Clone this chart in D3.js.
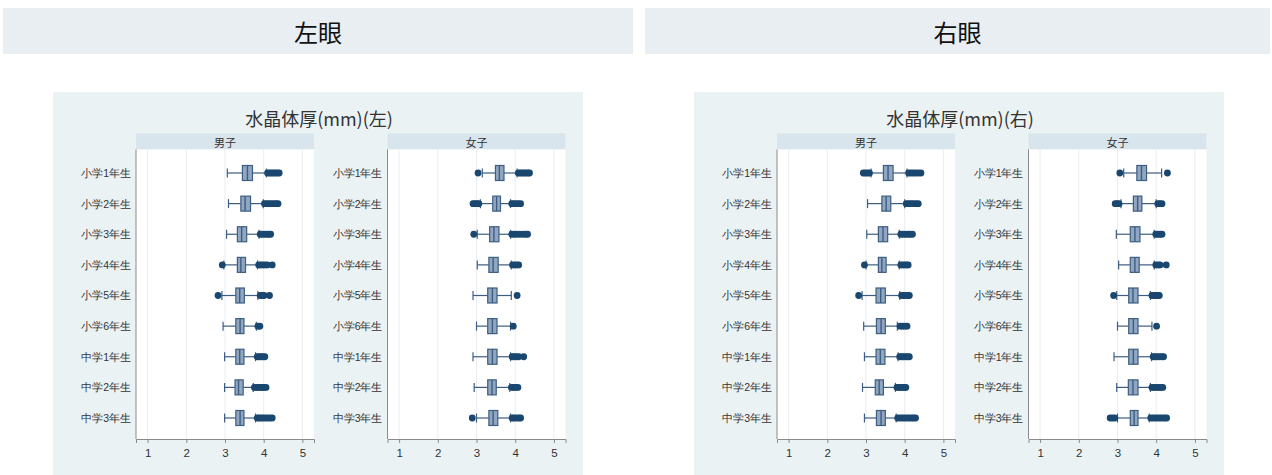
<!DOCTYPE html>
<html>
<head>
<meta charset="utf-8">
<script src="https://cdn.jsdelivr.net/npm/d3@7"></script>
<style>
  body { margin: 0; background: #fff; }
  svg { display: block; font-family: "Noto Sans CJK JP", "Noto Sans", sans-serif; }
</style>
</head>
<body>
<div id="chart"></div>
<script>
const eyes = ["左眼", "右眼"];
const titles = ["水晶体厚(mm)(左)", "水晶体厚(mm)(右)"];
const sexes = ["男子", "女子"];
const grades = ["小学1年生", "小学2年生", "小学3年生", "小学4年生", "小学5年生",
  "小学6年生", "中学1年生", "中学2年生", "中学3年生"];
const xTicks = [1, 2, 3, 4, 5];

// [lower whisker, q1, median, q3, upper whisker]
const leftMaleBox = [
  [3.06, 3.45, 3.58, 3.71, 4.07], [3.09, 3.41, 3.52, 3.66, 3.99], [3.04, 3.32, 3.43, 3.56, 3.88],
  [2.97, 3.32, 3.41, 3.53, 3.84], [2.92, 3.28, 3.38, 3.50, 3.85], [2.95, 3.28, 3.39, 3.49, 3.81],
  [2.99, 3.28, 3.38, 3.49, 3.79], [2.99, 3.26, 3.35, 3.47, 3.73], [2.99, 3.28, 3.39, 3.49, 3.79]
];
const leftMaleOut = [
  [4.10, 4.15, 4.20, 4.25, 4.30, 4.35, 4.40], [4.02, 4.08, 4.14, 4.20, 4.26, 4.32, 4.37],
  [3.91, 3.96, 4.02, 4.08, 4.13, 4.18], [2.93, 3.87, 3.92, 3.97, 4.03, 4.09, 4.22],
  [2.82, 3.91, 3.96, 4.01, 4.15], [3.85, 3.90], [3.83, 3.88, 3.93, 3.98, 4.03],
  [3.76, 3.81, 3.86, 3.91, 3.96, 4.01, 4.06], [3.83, 3.88, 3.93, 3.98, 4.04, 4.10, 4.16, 4.22]
];
const leftFemaleBox = [
  [3.15, 3.49, 3.59, 3.71, 4.05], [3.10, 3.42, 3.52, 3.62, 3.88], [3.02, 3.34, 3.45, 3.58, 3.88],
  [3.02, 3.32, 3.43, 3.56, 3.90], [2.91, 3.29, 3.41, 3.53, 3.90], [3.00, 3.29, 3.41, 3.53, 3.88],
  [2.91, 3.29, 3.41, 3.53, 3.88], [2.94, 3.29, 3.40, 3.51, 3.86], [3.00, 3.32, 3.43, 3.55, 3.88]
];
const leftFemaleOut = [
  [3.04, 4.08, 4.13, 4.18, 4.23, 4.28, 4.33, 4.37], [2.91, 2.96, 3.01, 3.06, 3.91, 3.96, 4.02, 4.08, 4.14],
  [2.93, 3.91, 3.97, 4.04, 4.12, 4.20, 4.27, 4.32], [3.93, 3.98, 4.04, 4.09], [4.05], [3.95],
  [3.92, 3.97, 4.03, 4.09, 4.22], [3.90, 3.95, 4.01, 4.07], [2.89, 3.92, 3.97, 4.03, 4.09, 4.14]
];
const rightMaleBox = [
  [3.13, 3.45, 3.57, 3.70, 4.06], [3.04, 3.41, 3.52, 3.64, 4.00], [3.02, 3.32, 3.44, 3.56, 3.86],
  [3.00, 3.32, 3.41, 3.52, 3.86], [2.90, 3.26, 3.38, 3.50, 3.87], [2.94, 3.27, 3.39, 3.50, 3.81],
  [2.96, 3.26, 3.37, 3.49, 3.83], [2.91, 3.24, 3.34, 3.45, 3.76], [2.96, 3.27, 3.39, 3.50, 3.78]
];
const rightMaleOut = [
  [2.93, 2.98, 3.04, 3.09, 4.10, 4.16, 4.22, 4.28, 4.35, 4.42], [4.04, 4.10, 4.16, 4.22, 4.29, 4.35],
  [3.90, 3.96, 4.02, 4.08, 4.14, 4.20], [2.96, 3.90, 3.95, 4.00, 4.05, 4.09],
  [2.81, 3.92, 3.97, 4.02, 4.07, 4.12], [3.88, 3.94, 4.00, 4.06], [3.87, 3.92, 3.97, 4.02, 4.07, 4.12],
  [3.80, 3.85, 3.90, 3.95, 4.00, 4.03], [3.82, 3.88, 3.94, 4.00, 4.06, 4.12, 4.18, 4.23, 4.28]
];
const rightFemaleBox = [
  [3.16, 3.50, 3.62, 3.75, 4.14], [3.09, 3.41, 3.52, 3.63, 4.00], [2.97, 3.33, 3.45, 3.58, 3.95],
  [3.03, 3.33, 3.45, 3.56, 3.95], [2.98, 3.29, 3.40, 3.53, 3.85], [3.00, 3.29, 3.41, 3.53, 3.89],
  [2.91, 3.29, 3.41, 3.53, 3.88], [2.98, 3.28, 3.40, 3.53, 3.85], [3.00, 3.33, 3.43, 3.53, 3.82]
];
const rightFemaleOut = [
  [3.06, 4.29], [2.94, 2.99, 3.04, 4.04, 4.09, 4.15], [3.99, 4.04, 4.10, 4.15],
  [3.99, 4.05, 4.10, 4.26], [2.90, 3.89, 3.94, 3.99, 4.04, 4.08], [4.01],
  [3.92, 3.97, 4.02, 4.08, 4.14, 4.19], [3.89, 3.94, 4.00, 4.06, 4.12, 4.17],
  [2.81, 2.87, 2.93, 3.86, 3.92, 3.98, 4.04, 4.10, 4.16, 4.22, 4.27]
];

const charts = [
  [{ box: leftMaleBox, out: leftMaleOut }, { box: leftFemaleBox, out: leftFemaleOut }],
  [{ box: rightMaleBox, out: rightMaleOut }, { box: rightFemaleBox, out: rightFemaleOut }]
];

const width = 1272, height = 475;
const svg = d3.select("#chart").append("svg")
  .attr("width", width)
  .attr("height", height);

const bandX = [3, 645];
const bandW = [630, 625];
const chartX = [53, 694];
const chartW = 530;

const plotW = 178;
const plotOffsets = [83, 334.5];
const plotTop = 149.5, plotBottom = 439;

const x = d3.scaleLinear().domain([0.7, 5.3]).range([0, plotW]);
const y = d3.scalePoint().domain(grades).range([173, 418]);

const navy = "#1a476f";
const boxFill = "#91a7c1";
const boxLine = "#3d5d82";

eyes.forEach((eye, e) => {
  // top band
  svg.append("rect")
    .attr("x", bandX[e]).attr("y", 8)
    .attr("width", bandW[e]).attr("height", 46)
    .style("fill", "#e8eef1");
  svg.append("text")
    .attr("x", bandX[e] + bandW[e] / 2).attr("y", 31)
    .attr("text-anchor", "middle")
    .attr("dominant-baseline", "central")
    .style("font-size", "24px")
    .style("fill", "#111")
    .text(eye);

  const g = svg.append("g").attr("transform", `translate(${chartX[e]},0)`);
  g.append("rect")
    .attr("x", 0).attr("y", 92)
    .attr("width", chartW).attr("height", height - 92)
    .style("fill", "#eaf2f3");

  g.append("text")
    .attr("x", chartW / 2 + 1).attr("y", 118)
    .attr("text-anchor", "middle")
    .attr("dominant-baseline", "central")
    .style("font-size", "18px")
    .style("fill", "#333")
    .text(titles[e]);

  sexes.forEach((sex, s) => {
    const p = g.append("g").attr("transform", `translate(${plotOffsets[s]},0)`);
    const { box, out } = charts[e][s];

    // strip header
    p.append("rect")
      .attr("x", 0).attr("y", 133.5)
      .attr("width", plotW).attr("height", plotTop - 133.5)
      .style("fill", "#d9e5ec");
    p.append("text")
      .attr("x", plotW / 2).attr("y", 141.5)
      .attr("text-anchor", "middle")
      .attr("dominant-baseline", "central")
      .style("font-size", "11px")
      .style("fill", "#333")
      .text(sex);

    // plot area
    p.append("rect")
      .attr("x", 0).attr("y", plotTop)
      .attr("width", plotW).attr("height", plotBottom - plotTop)
      .style("fill", "#fff");

    p.selectAll(".grid")
      .data(xTicks)
      .enter()
      .append("line")
      .attr("x1", d => x(d)).attr("x2", d => x(d))
      .attr("y1", plotTop).attr("y2", plotBottom)
      .style("stroke", "#e9ecef")
      .style("stroke-width", 1);

    // x axis
    const xa = p.append("g")
      .attr("transform", `translate(0,${plotBottom})`)
      .call(d3.axisBottom(x).tickValues(xTicks).tickSize(4).tickPadding(6).tickFormat(d3.format("d")));
    xa.select(".domain").style("stroke", "#8a8a8a");
    xa.selectAll(".tick line").style("stroke", "#8a8a8a");
    xa.selectAll(".tick text")
      .style("font-size", "11.5px")
      .style("fill", "#333")
      .style("font-family", "'Liberation Sans', Arial, sans-serif");

    // y axis (labels only)
    const ya = p.append("g")
      .call(d3.axisLeft(y).tickSize(0).tickPadding(5));
    ya.select(".domain").remove();
    ya.selectAll(".tick text")
      .style("font-size", "10.5px")
      .style("fill", "#333");
    p.append("line")
      .attr("x1", 0).attr("x2", 0)
      .attr("y1", plotTop).attr("y2", plotBottom)
      .style("stroke", "#8a8a8a");

    const rows = box.map((b, i) => ({ grade: grades[i], b, out: out[i] }));
    const row = p.selectAll(".row")
      .data(rows)
      .enter()
      .append("g")
      .attr("transform", d => `translate(0,${y(d.grade)})`);

    const boxH = 15, capH = 9;

    // whiskers
    row.append("line")
      .attr("x1", d => x(d.b[0])).attr("x2", d => x(d.b[1]))
      .style("stroke", boxLine).style("stroke-width", 1.2);
    row.append("line")
      .attr("x1", d => x(d.b[3])).attr("x2", d => x(d.b[4]))
      .style("stroke", boxLine).style("stroke-width", 1.2);
    row.selectAll(".cap")
      .data(d => [d.b[0], d.b[4]])
      .enter()
      .append("line")
      .attr("x1", d => x(d)).attr("x2", d => x(d))
      .attr("y1", -capH / 2).attr("y2", capH / 2)
      .style("stroke", boxLine).style("stroke-width", 1.2);

    // box
    row.append("rect")
      .attr("x", d => x(d.b[1]))
      .attr("y", -boxH / 2)
      .attr("width", d => x(d.b[3]) - x(d.b[1]))
      .attr("height", boxH)
      .style("fill", boxFill)
      .style("stroke", boxLine)
      .style("stroke-width", 1.2);
    row.append("line")
      .attr("x1", d => x(d.b[2])).attr("x2", d => x(d.b[2]))
      .attr("y1", -boxH / 2).attr("y2", boxH / 2)
      .style("stroke", boxLine).style("stroke-width", 1.4);

    // outliers
    row.selectAll(".out")
      .data(d => d.out)
      .enter()
      .append("circle")
      .attr("cx", d => x(d))
      .attr("cy", 0)
      .attr("r", 3.4)
      .style("fill", navy);
  });
});
</script>
</body>
</html>
